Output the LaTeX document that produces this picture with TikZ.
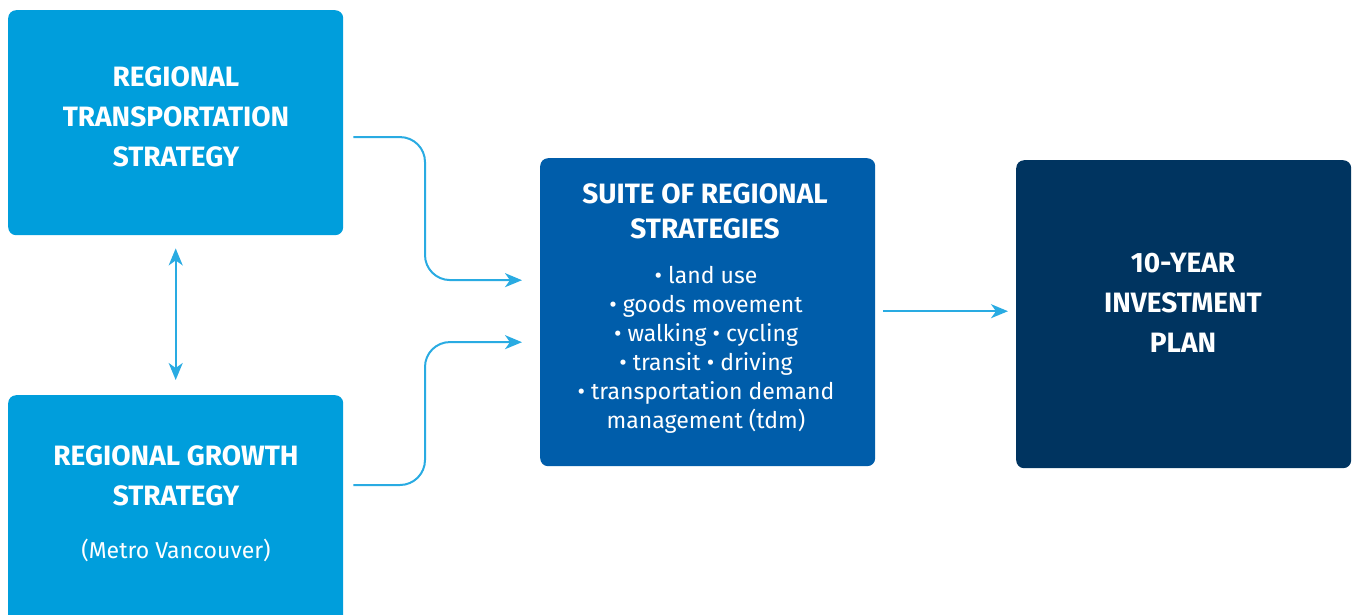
\documentclass[tikz,border=0pt]{standalone}
\usepackage{fontspec}
\setmainfont{Fira Sans}
\usetikzlibrary{arrows.meta,calc}
\definecolor{skyblue}{RGB}{0,158,220}
\definecolor{midblue}{RGB}{0,93,170}
\definecolor{navy}{RGB}{0,52,96}
\definecolor{linkblue}{RGB}{41,171,226}
\begin{document}
\begin{tikzpicture}[x=1pt,y=-1pt,
  panel/.style={fill=#1, draw=none, rounded corners=8pt, inner sep=0pt,
    minimum width=335pt, anchor=north west},
  head/.style={text=white, align=center, inner sep=0pt,
    font=\fontsize{28}{40}\selectfont\bfseries},
  body/.style={text=white, align=center, inner sep=0pt,
    font=\fontsize{23}{29}\selectfont},
  conn/.style={draw=linkblue, line width=2pt,
    -{Stealth[length=17pt,width=14pt,inset=5pt]}},
  biconn/.style={draw=linkblue, line width=2pt,
    {Stealth[length=17pt,width=14pt,inset=5pt]}-{Stealth[length=17pt,width=14pt,inset=5pt]}}
]
\useasboundingbox (0,0) rectangle (1353,614);
\clip (0,0) rectangle (1353,614);

% boxes
\node[panel=skyblue, minimum height=225pt] (rts) at (8,10) {};
\node[panel=skyblue, minimum height=240pt] (rgs) at (8,395) {};
\node[panel=midblue, minimum height=308pt] (suite) at (540,158) {};
\node[panel=navy, minimum height=308pt] (plan) at (1016,160) {};

% texts
\node[head] (rtst) at (176,117) {REGIONAL\\TRANSPORTATION\\STRATEGY};
\node[head] (rgst) at (176,476) {REGIONAL GROWTH\\STRATEGY};
\node[body] (rgsn) at (176,550) {(Metro Vancouver)};
\node[head, font=\fontsize{28}{35}\selectfont\bfseries] (suitet) at (705,211) {SUITE OF REGIONAL\\STRATEGIES};
\node[body] (suiteb) at (706,350) {• land use\\• goods movement\\• walking • cycling\\• transit • driving\\• transportation demand\\management (tdm)};
\node[head] (plant) at (1183,303) {10-YEAR\\INVESTMENT\\PLAN};

% connectors
\coordinate (a1) at ($(rts.east)+(10,14.5)$);
\coordinate (a2) at ($(suite.west)+(-18,-32)$);
\coordinate (b1) at ($(rgs.north east)+(10,90)$);
\coordinate (b2) at ($(suite.west)+(-18,30)$);
\draw[conn, rounded corners=25pt] (a1) -- (425,137) -- (425,280) -- (a2);
\draw[conn, rounded corners=25pt] (b1) -- (425,485) -- (425,342) -- (b2);
\draw[biconn] ($(rts.south)+(0,13)$) -- ($(rgs.north)+(0,-15)$);
\draw[conn] ($(suite.east)+(8,-1)$) -- ($(plan.west)+(-8,-3)$);
\end{tikzpicture}
\end{document}
